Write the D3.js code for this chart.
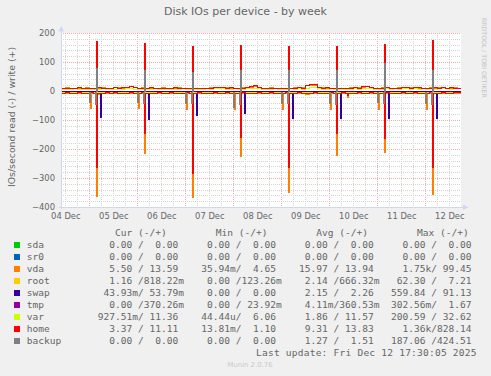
<!DOCTYPE html>
<html><head><meta charset="utf-8">
<script src="https://cdn.jsdelivr.net/npm/d3@7"></script>
<style>html,body{margin:0;padding:0;background:#F0F0F0;}svg{display:block;}</style>
</head><body>
<svg id="c" width="491" height="376"></svg>
<script>
// ---------- data ----------
const titleText = "Disk IOs per device - by week";
const yLabelText = "IOs/second read (-) / write (+)";
const yTicks = [200, 100, 0, -100, -200, -300, -400];
const devices = ["sda","sr0","vda","root","swap","tmp","var","home","backup"];
const colors = ["#00CC00","#0066B3","#FF8000","#FFCC00","#330099","#990099","#CCFF00","#FF0000","#808080"];
const drawOrder = ["sda","sr0","tmp","vda","root","swap","var","home","backup"];

// baselines sampled every 2 hours starting Dec 4 10:00 (UTC)
const homeWrite = [11,12,11,12,13,11,12, 12,11,13,12,11,12,14, 12,13,15,18,13,12, 12,11,13,12,11,12, 11,12,13,12,11,12, 12,11,10,12,11,12, 13,14,13,12,13,12, 11,12,14,16,20,13, 12,11,12,11,10,11, 12,11,12,13,12,22, 24,23,13,12,13,12, 11,12,10,11,12,13, 12,16,17,14,12,11, 12,13,12,11,12,14, 13,12,14,13,12,11, 12,13,12,14,12,13,12,11,12];
const varWrite = [8,7,8,9,8,7,8, 8,7,8,9,8,7,8, 9,8,9,10,8,7, 8,7,8,9,8,7, 8,7,8,8,9,8, 7,8,7,8,9,8, 9,10,9,8,8,9, 8,7,9,10,12,9, 8,7,8,9,8,7, 8,9,8,9,8,12, 14,13,9,8,8,9, 8,7,8,7,8,9, 8,10,11,9,8,7, 8,9,8,9,8,10, 9,8,9,8,9,8, 9,8,9,10,9,8,9,10,11];
const vdaWrite = [12,13,12,11,12,12,13, 11,12,12,13,12,11,13, 13,12,14,17,14,11, 13,12,12,11,12,13, 12,11,12,13,12,11, 11,12,11,11,12,13, 12,13,14,13,12,11, 12,13,13,15,18,14, 11,12,13,12,11,12, 11,12,13,12,13,20, 22,22,14,13,12,11, 12,11,11,12,13,12, 13,15,16,13,11,12, 13,12,11,12,13,13, 12,13,13,12,11,12, 13,12,13,13,11,12,13,12,13];
const vdaRead = [-7,-8,-7,-6,-8,-7,-6, -7,-8,-9,-7,-6,-7,-8, -7,-6,-8,-7,-7,-6, -8,-7,-6,-7,-8,-7, -6,-7,-8,-7,-6,-7, -8,-7,-6,-7,-8,-7, -7,-6,-8,-7,-6,-8, -7,-8,-7,-6,-7,-8, -6,-7,-8,-7,-6,-7, -8,-7,-6,-7,-8,-9, -8,-7,-6,-7,-8,-7, -6,-7,-8,-7,-6,-7, -8,-7,-6,-7,-8,-7, -7,-6,-8,-7,-6,-7, -8,-7,-6,-7,-8,-7, -6,-7,-8,-7,-6,-7,-8,-6,-6];
const homeRead = [-6,-5,-6,-7,-5,-6,-6, -5,-6,-7,-6,-5,-6,-5, -6,-7,-6,-5,-6,-6, -5,-6,-7,-6,-5,-6, -6,-5,-6,-7,-6,-5, -6,-6,-5,-6,-7,-6, -5,-6,-6,-5,-6,-7, -6,-5,-6,-7,-6,-5, -6,-6,-5,-6,-7,-6, -5,-6,-6,-5,-6,-7, -6,-5,-6,-7,-6,-5, -6,-6,-5,-6,-7,-6, -5,-6,-6,-5,-6,-7, -6,-5,-6,-7,-6,-5, -6,-6,-5,-6,-7,-6, -5,-6,-6,-5,-6,-7,-5,-4,-4];

// flat levels for quiet series (index = device), null = uses an array above / only spikes
const readFlat  = [0, 0, null, -3.5, 0, 0, -2, null, null];
const writeFlat = [0, 0, null, 1.5, 0, 0.4, null, null, null];

// daily spikes, Dec 5 .. Dec 12
const spikeDays = ["2025-12-05","2025-12-06","2025-12-07","2025-12-08","2025-12-09","2025-12-10","2025-12-11","2025-12-12"];
const homeWriteSpike  = [172, 166, 156, 159, 156, 156, 163, 177];   // 03:30
const homeReadSpike   = [-261, -145, -283, -157, -261, -146, -163, -261]; // 03:30
const vdaReadSpike    = [-361, -213, -364, -224, -347, -221, -209, -355]; // 03:30
const vdaReadNight    = [-59, -59, -63, -63, -62, -63, -62, -62];   // 00:30
const swapReadSpike   = [-88, -98, -82, -77, -94, -94, -94, -94];   // 05:30
const backupWriteSpike= [79, 72, 67, 72, 72, 72, 95, 72];           // 03:30
const backupReadSpike = [-45, -42, -40, -45, -42, -45, -40, -45];   // 03:00
const backupReadNight = [-38, -38, -40, -54, -40, -40, -38, -40];   // 00:00
const extraTimes = ["2025-12-10T09:00:00Z"];
const extraVdaRead = [-20];
const extraHomeRead = [-14];

// legend
const curCol = ["  0.00 /  0.00 ","  0.00 /  0.00 ","  5.50 / 13.59 ","  1.16 /818.22m"," 43.93m/ 53.79m","  0.00 /370.26m","927.51m/ 11.36 ","  3.37 / 11.11 ","  0.00 /  0.00 "];
const minCol = ["  0.00 /  0.00 ","  0.00 /  0.00 "," 35.94m/  4.65 ","  0.00 /123.26m","  0.00 /  0.00 ","  0.00 / 23.92m"," 44.44u/  6.06 "," 13.81m/  1.10 ","  0.00 /  0.00 "];
const avgCol = ["  0.00 /  0.00 ","  0.00 /  0.00 "," 15.97 / 13.94 ","  2.14 /666.32m","  2.15 /  2.26 ","  4.11m/360.53m","  1.86 / 11.57 ","  9.31 / 13.83 ","  1.27 /  1.51 "];
const maxCol = ["  0.00 /  0.00 ","  0.00 /  0.00 ","  1.75k/ 99.45 "," 62.30 /  7.21 ","559.84 / 91.13 ","302.56m/  1.67 ","200.59 / 32.62 ","  1.36k/828.14 ","187.06 /424.51 "];
const headers = ["Cur (-/+)","Min (-/+)","Avg (-/+)","Max (-/+)"];
const lastUpdate = "Last update: Fri Dec 12 17:30:05 2025";
const watermark = "RRDTOOL / TOBI OETIKER";
const muninVer = "Munin 2.0.76";

// ---------- drawing ----------
const W = 491, H = 376;
const X0 = 61, X1 = 461, Y0 = 33, Y1 = 207;
const svg = d3.select("#c");
const SANS = "'DejaVu Sans', sans-serif", MONO = "'DejaVu Sans Mono', monospace";
const FONT = "#666666";
const nb = s => s.replace(/ /g, "\u00A0");

const x = d3.scaleUtc().domain([Date.UTC(2025,11,4,9,50), Date.UTC(2025,11,12,17,50)]).range([X0, X1]);
const y = d3.scaleLinear().domain([-400, 200]).range([Y1, Y0]);
const px = v => Math.round(v) + 0.5;

svg.append("rect").attr("width", W).attr("height", H).attr("fill", "#F0F0F0");
svg.append("rect").attr("x", X0).attr("y", Y0).attr("width", X1 - X0).attr("height", Y1 - Y0).attr("fill", "#FFFFFF");

// grid
const g = svg.append("g").attr("shape-rendering", "crispEdges");
const [d0, d1] = x.domain();
const hours6 = d3.utcHour.every(6).range(d0, d1);
hours6.forEach(t => {
  const major = t.getUTCHours() === 0;
  g.append("line").attr("x1", px(x(t))).attr("x2", px(x(t))).attr("y1", Y0).attr("y2", Y1)
    .attr("stroke", major ? "#F7A8A8" : "#D4D4D4").attr("stroke-dasharray", "1,1");
});
d3.range(-380, 201, 20).forEach(v => {
  const major = v % 100 === 0;
  g.append("line").attr("x1", X0).attr("x2", X1).attr("y1", px(y(v))).attr("y2", px(y(v)))
    .attr("stroke", major ? "#F7A8A8" : "#D4D4D4").attr("stroke-dasharray", "1,1");
});

// series
const STEP = 2 * 3600e3, TA = Date.UTC(2025,11,4,10), TEND = Date.UTC(2025,11,12,18), HALF = 1800e3;
function dayEvents(vals, minutes) {
  return vals.map((v, k) => ({ t: Date.parse(spikeDays[k] + "T00:00:00Z") + minutes * 60e3, v }));
}
function extraEvents(vals) { return vals.map((v, k) => ({ t: Date.parse(extraTimes[k]), v })); }
function build(baseArr, flat, events) {
  if (!baseArr && flat === null) {
    return events.map(e => [{t: e.t, v: 0}, {t: e.t, v: e.v}, {t: e.t + HALF, v: 0}]);
  }
  let pts, hold;
  if (baseArr) {
    pts = baseArr.map((v, i) => ({ t: TA + i * STEP, v, o: 0 }));
    hold = t => baseArr[Math.max(0, Math.min(baseArr.length - 1, Math.floor((t - TA) / STEP)))];
  } else {
    pts = [{ t: Date.UTC(2025,11,4,8), v: flat, o: 0 }, { t: TEND, v: flat, o: 0 }];
    hold = () => flat;
  }
  events.forEach(e => {
    pts.push({ t: e.t, v: e.v, o: 1 });
    pts.push({ t: e.t + HALF, v: hold(e.t + HALF), o: 2 });
  });
  pts.sort((a, b) => a.t - b.t || a.o - b.o);
  return [pts];
}
const readArr = { vda: vdaRead, home: homeRead };
const writeArr = { vda: vdaWrite, var: varWrite, home: homeWrite };
const readEv = {
  vda: dayEvents(vdaReadNight, 30).concat(dayEvents(vdaReadSpike, 210), extraEvents(extraVdaRead)),
  swap: dayEvents(swapReadSpike, 330),
  home: dayEvents(homeReadSpike, 210).concat(extraEvents(extraHomeRead)),
  backup: dayEvents(backupReadNight, 0).concat(dayEvents(backupReadSpike, 180))
};
const writeEv = {
  home: dayEvents(homeWriteSpike, 210),
  backup: dayEvents(backupWriteSpike, 210)
};

svg.append("clipPath").attr("id", "clip").append("rect")
  .attr("x", X0 + 1).attr("y", Y0 - 2).attr("width", X1 - X0 - 1).attr("height", Y1 - Y0 + 2);
const line = d3.line().x(d => px(x(d.t))).y(d => px(y(d.v))).curve(d3.curveStepAfter);
const data = svg.append("g").attr("clip-path", "url(#clip)");
drawOrder.forEach(name => {
  const i = devices.indexOf(name);
  const sets = [
    build(readArr[name] || null, readFlat[i], readEv[name] || []),
    build(writeArr[name] || null, writeFlat[i], writeEv[name] || [])
  ];
  sets.forEach(segs => segs.forEach(seg => {
    data.append("path").attr("d", line(seg)).attr("fill", "none")
      .attr("stroke", colors[i]).attr("stroke-width", 1).attr("shape-rendering", "crispEdges");
  }));
});

// axes lines + arrows
const AX = "#CFD6F8";
svg.append("line").attr("x1", X0 + 0.5).attr("x2", X0 + 0.5).attr("y1", Y1 + 2).attr("y2", 28).attr("stroke", AX);
svg.append("line").attr("x1", X0 - 2).attr("x2", 464).attr("y1", Y1 + 0.5).attr("y2", Y1 + 0.5).attr("stroke", AX);
svg.append("path").attr("d", "M58.5,31.5L64,31.5L61.25,26Z").attr("fill", AX);
svg.append("path").attr("d", "M463,204.5L463,210L468.5,207.25Z").attr("fill", AX);

// y axis labels
const yAxis = svg.append("g").attr("transform", `translate(${X0},0)`)
  .call(d3.axisLeft(y).tickValues(yTicks).tickSize(0).tickPadding(6).tickFormat(d3.format("d")));
yAxis.select(".domain").remove();
yAxis.selectAll("text").attr("fill", FONT).attr("font-family", SANS).attr("font-size", "8.4px");

// x axis labels at noon
const noons = d3.utcDay.range(Date.UTC(2025,11,4), Date.UTC(2025,11,13)).map(d => new Date(+d + 12 * 3600e3));
const xAxis = svg.append("g").attr("transform", `translate(0,${Y1})`)
  .call(d3.axisBottom(x).tickValues(noons).tickSize(0).tickPadding(6).tickFormat(d3.utcFormat("%d %b")));
xAxis.select(".domain").remove();
xAxis.selectAll("text").attr("fill", FONT).attr("font-family", SANS).attr("font-size", "8.4px");

// title & labels
svg.append("text").attr("x", 245.5).attr("y", 15).attr("text-anchor", "middle")
  .attr("font-family", SANS).attr("font-size", "11px").attr("fill", FONT).text(titleText);
svg.append("text").attr("transform", "translate(14.5,117) rotate(-90)").attr("text-anchor", "middle")
  .attr("font-family", SANS).attr("font-size", "9.4px").attr("fill", FONT).text(yLabelText);
svg.append("text").attr("transform", "translate(482,18) rotate(90)").attr("text-anchor", "start")
  .attr("font-family", SANS).attr("font-size", "6.2px").attr("fill", "#C4C4C4").text(watermark);

// legend
const legend = svg.append("g").attr("font-family", MONO).attr("font-size", "9.55px").attr("fill", FONT);
const headerX = [115, 215.7, 316.3, 417];
headers.forEach((h, k) => legend.append("text").attr("x", headerX[k]).attr("y", 235.8).text(nb(h)));
const blockX = [97.8, 195.5, 293.2, 391];
const cols = [curCol, minCol, avgCol, maxCol];
devices.forEach((d, i) => {
  const cy = 244.7 + 12 * i;
  legend.append("rect").attr("x", 14).attr("y", cy - 3).attr("width", 6).attr("height", 6)
    .attr("fill", colors[i]).attr("shape-rendering", "crispEdges");
  legend.append("text").attr("x", 26.7).attr("y", cy + 3.4).text(d);
  cols.forEach((c, k) => legend.append("text").attr("x", blockX[k]).attr("y", cy + 3.4).text(nb(c[i])));
});
legend.append("text").attr("x", 476.5).attr("y", 356.2).attr("text-anchor", "end")
  .attr("textLength", 220.5).attr("lengthAdjust", "spacing").text(lastUpdate);
svg.append("text").attr("x", 250).attr("y", 366.5).attr("text-anchor", "middle")
  .attr("font-family", SANS).attr("font-size", "6.9px").attr("fill", "#CACACA").text(muninVer);
</script>
</body></html>
